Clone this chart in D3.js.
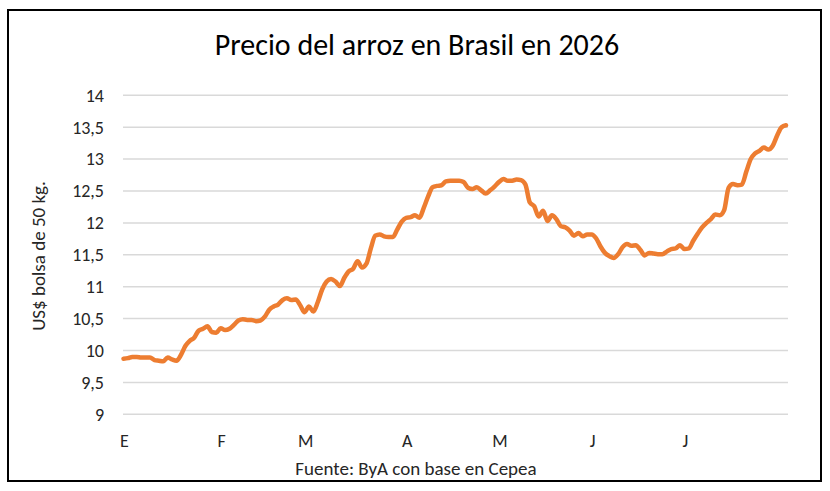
<!DOCTYPE html>
<html lang="es">
<head>
  <meta charset="UTF-8">
  <title>Precio del arroz en Brasil en 2026</title>
  <script src="https://d3js.org/d3.v7.min.js"></script>
  <style>
    body {
      margin: 0;
      background: #fff;
      font-family: Carlito, Calibri, Lato, sans-serif;
    }
    .grid line {
      stroke: #d9d9d9;
      stroke-width: 1.5px;
    }
    .tick-label {
      font-size: 18px;
      fill: #262626;
    }
  </style>
</head>
<body>
  <svg width="830" height="491"></svg>

  <script>
    // precio diario (US$ por bolsa de 50 kg)
    const precios = [
      9.87, 9.88, 9.90, 9.90, 9.89, 9.89, 9.89, 9.85, 9.84, 9.83,
      9.89, 9.86, 9.84, 9.93, 10.07, 10.15, 10.20, 10.31, 10.34, 10.38,
      10.29, 10.28, 10.35, 10.32, 10.34, 10.40, 10.47, 10.49, 10.48, 10.48,
      10.46, 10.47, 10.53, 10.64, 10.69, 10.72, 10.79, 10.82, 10.79, 10.80,
      10.71, 10.60, 10.69, 10.61, 10.76, 10.96, 11.08, 11.12, 11.08, 11.01,
      11.14, 11.24, 11.28, 11.40, 11.30, 11.36, 11.60, 11.80, 11.82, 11.79,
      11.78, 11.78, 11.90, 12.02, 12.08, 12.09, 12.12, 12.08, 12.24, 12.42,
      12.56, 12.58, 12.59, 12.65, 12.66, 12.66, 12.66, 12.64, 12.55, 12.53,
      12.56, 12.51, 12.46, 12.51, 12.57, 12.64, 12.69, 12.66, 12.66, 12.68,
      12.67, 12.60, 12.32, 12.26, 12.10, 12.19, 12.03, 12.12, 12.06, 11.95,
      11.93, 11.88, 11.80, 11.84, 11.79, 11.82, 11.82, 11.76, 11.63, 11.53,
      11.48, 11.45, 11.51, 11.62, 11.67, 11.64, 11.65, 11.58, 11.49, 11.53,
      11.52, 11.51, 11.51, 11.55, 11.59, 11.60, 11.65, 11.59, 11.60, 11.72,
      11.83, 11.93, 12.00, 12.06, 12.13, 12.12, 12.20, 12.55, 12.61, 12.59,
      12.60, 12.80, 13.00, 13.09, 13.13, 13.18, 13.15, 13.21, 13.37, 13.50,
      13.53
    ];

    // primer día hábil de cada mes (índice en la serie)
    const mesesIdx = [0, 22, 41, 64, 85, 106, 127];
    const mesesTxt = ["E", "F", "M", "A", "M", "J", "J"];

    const yTicks = [9, 9.5, 10, 10.5, 11, 11.5, 12, 12.5, 13, 13.5, 14];

    const svg = d3.select("svg");

    const fmt = v => String(v).replace(".", ",");

    const x = d3.scaleLinear()
      .domain([0, precios.length - 1])
      .range([123.5, 786]);

    const y = d3.scaleLinear()
      .domain([9, 14])
      .range([414.3, 95.3]);

    // marco exterior
    svg.append("rect")
      .attr("x", 8)
      .attr("y", 10)
      .attr("width", 813)
      .attr("height", 471)
      .attr("fill", "#fff")
      .attr("stroke", "#000")
      .attr("stroke-width", 2);

    svg.append("text")
      .attr("x", 417)
      .attr("y", 55)
      .attr("text-anchor", "middle")
      .style("font-size", "30px")
      .style("fill", "#000")
      .text("Precio del arroz en Brasil en 2026");

    const grid = svg.append("g").attr("class", "grid");
    grid.selectAll("line")
      .data(yTicks)
      .enter().append("line")
      .attr("x1", 123)
      .attr("x2", 788)
      .attr("y1", d => y(d))
      .attr("y2", d => y(d));

    svg.append("g")
      .selectAll("text")
      .data(yTicks)
      .enter().append("text")
      .attr("class", "tick-label")
      .attr("x", 104)
      .attr("y", d => y(d))
      .attr("dy", "0.35em")
      .attr("text-anchor", "end")
      .text(fmt);

    svg.append("g")
      .selectAll("text")
      .data(mesesIdx)
      .enter().append("text")
      .attr("class", "tick-label")
      .attr("x", d => x(d) + 1)
      .attr("y", 447)
      .attr("text-anchor", "middle")
      .text((d, i) => mesesTxt[i]);

    svg.append("text")
      .attr("class", "tick-label")
      .attr("transform", "translate(45,256) rotate(-90)")
      .attr("text-anchor", "middle")
      .style("font-size", "19px")
      .text("US$ bolsa de 50 kg.");

    svg.append("text")
      .attr("class", "tick-label")
      .attr("x", 416)
      .attr("y", 475)
      .attr("text-anchor", "middle")
      .style("font-size", "19px")
      .text("Fuente: ByA con base en Cepea");

    const line = d3.line()
      .x((d, i) => x(i))
      .y(d => y(d))
      .curve(d3.curveMonotoneX);

    svg.append("path")
      .datum(precios)
      .attr("fill", "none")
      .attr("stroke", "#ED7D31")
      .attr("stroke-width", 4.5)
      .attr("stroke-linejoin", "round")
      .attr("stroke-linecap", "round")
      .attr("d", line);
  </script>
</body>
</html>
